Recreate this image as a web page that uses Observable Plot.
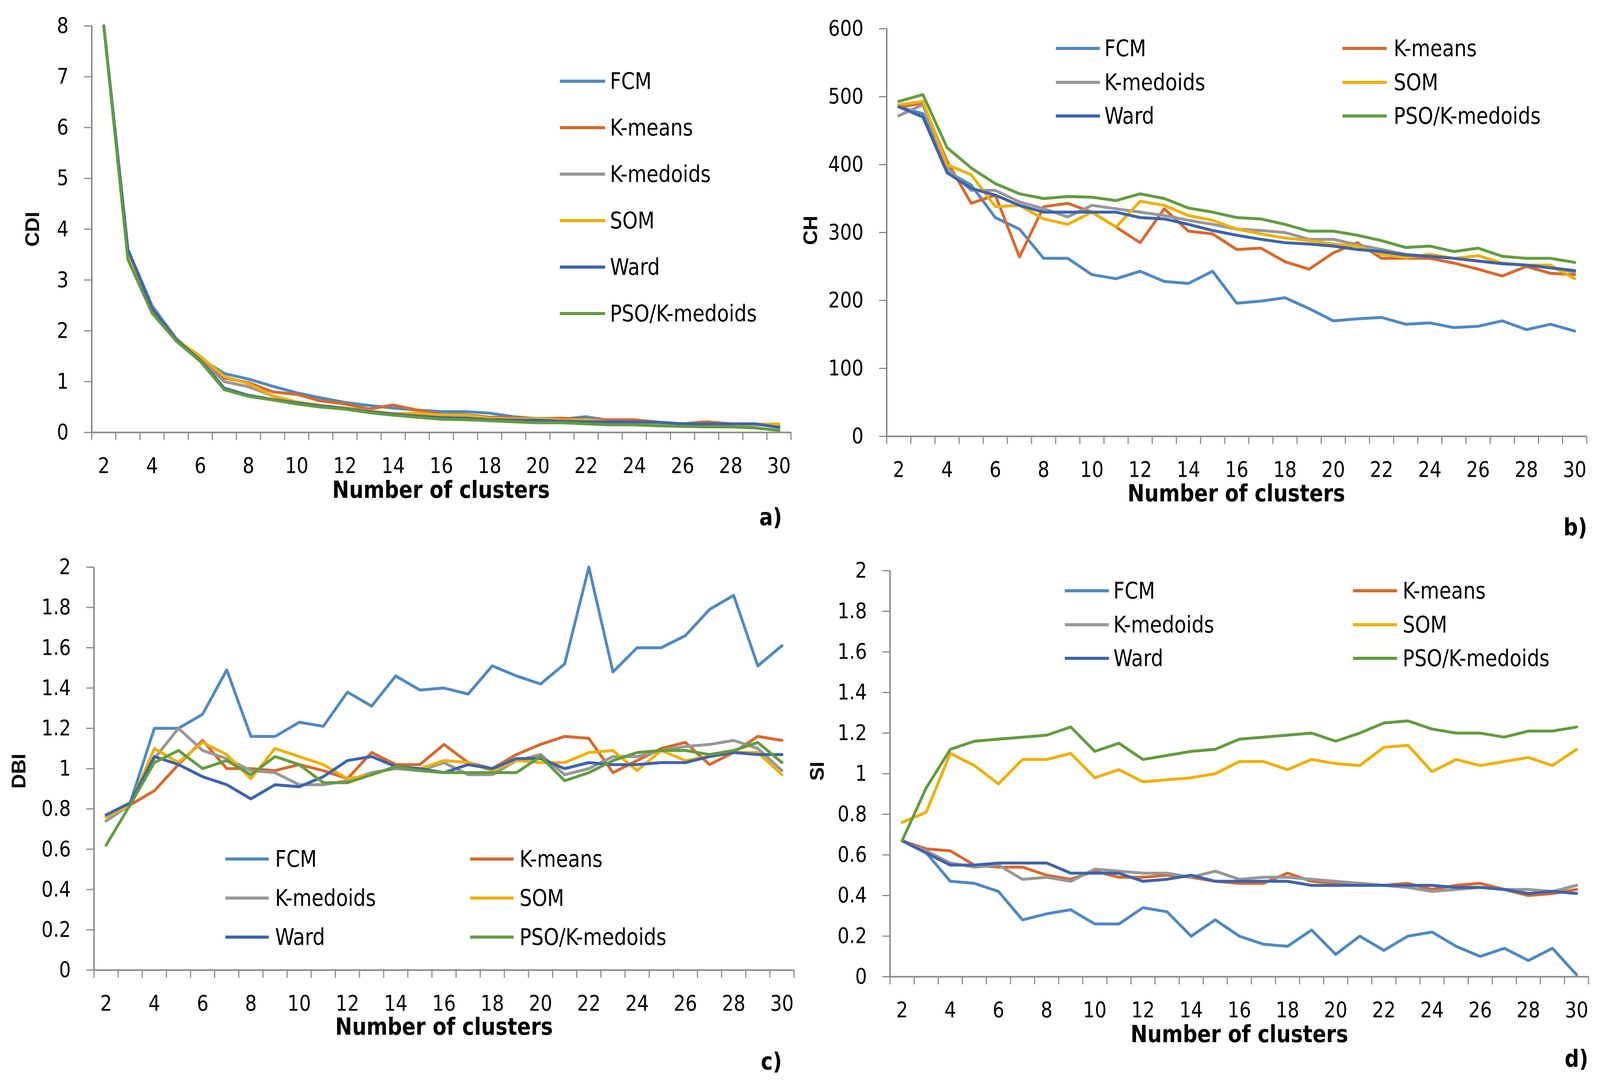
<!DOCTYPE html>
<html>
<head>
<meta charset="utf-8">
<script src="https://cdn.jsdelivr.net/npm/d3@7"></script>
<script src="https://cdn.jsdelivr.net/npm/@observablehq/plot@0.6"></script>
<style>
  html, body { margin: 0; padding: 0; background: #fff; overflow: hidden; }
  #root { position: absolute; left: 0; top: 0; width: 4281px; height: 2789px; background: #fff; overflow: hidden; transform-origin: 0 0; }
  .abs { position: absolute; white-space: nowrap; }
  .cond { font-family: "DejaVu Sans Condensed", "DejaVu Sans", sans-serif; color: #000; }
  .title { font-weight: bold; font-size: 60px; line-height: 1; transform: translate(-50%, -50%); }
  .ytitle { font-family: "Liberation Sans", Arial, sans-serif; font-weight: bold; font-size: 52px; line-height: 1; transform: translate(-50%, -50%) rotate(-90deg); }
  .leg { font-size: 58px; line-height: 1; transform: translateY(-50%); display: flex; align-items: center; }
</style>
</head>
<body>
<div id="root"></div>
<script>
// ---------- categories ----------
const K = d3.range(2, 31); // number of clusters 2..30
const SERIES = ["FCM", "K-means", "K-medoids", "SOM", "Ward", "PSO/K-medoids"];
const COLORS = ["#4f89c2", "#d9692b", "#979797", "#efb000", "#3d63ae", "#629c3f"];

// ---------- a) CDI ----------
const cdiFCM      = [8, 3.6, 2.5, 1.85, 1.45, 1.16, 1.05, 0.91, 0.78, 0.68, 0.59, 0.53, 0.48, 0.44, 0.41, 0.41, 0.38, 0.31, 0.27, 0.26, 0.31, 0.23, 0.21, 0.2, 0.17, 0.16, 0.16, 0.16, 0.14];
const cdiKmeans   = [8, 3.5, 2.4, 1.83, 1.45, 1.07, 0.98, 0.8, 0.75, 0.62, 0.56, 0.46, 0.54, 0.44, 0.35, 0.35, 0.3, 0.29, 0.27, 0.28, 0.25, 0.25, 0.25, 0.2, 0.17, 0.21, 0.17, 0.16, 0.15];
const cdiKmedoids = [8, 3.5, 2.5, 1.85, 1.42, 1.0, 0.9, 0.72, 0.6, 0.53, 0.48, 0.42, 0.37, 0.33, 0.31, 0.3, 0.27, 0.27, 0.24, 0.24, 0.22, 0.2, 0.2, 0.19, 0.17, 0.16, 0.16, 0.15, 0.14];
const cdiSOM      = [8, 3.5, 2.4, 1.83, 1.5, 1.1, 0.96, 0.72, 0.6, 0.53, 0.48, 0.42, 0.37, 0.38, 0.34, 0.34, 0.28, 0.26, 0.27, 0.24, 0.25, 0.21, 0.21, 0.19, 0.17, 0.17, 0.16, 0.16, 0.17];
const cdiWard     = [8, 3.6, 2.45, 1.83, 1.42, 0.87, 0.73, 0.65, 0.58, 0.52, 0.47, 0.41, 0.36, 0.32, 0.29, 0.28, 0.25, 0.24, 0.24, 0.22, 0.21, 0.21, 0.21, 0.2, 0.17, 0.17, 0.17, 0.17, 0.1];
const cdiPSO      = [8, 3.4, 2.35, 1.8, 1.4, 0.84, 0.71, 0.64, 0.56, 0.5, 0.46, 0.39, 0.34, 0.3, 0.26, 0.25, 0.23, 0.21, 0.19, 0.19, 0.17, 0.15, 0.15, 0.13, 0.12, 0.11, 0.11, 0.09, 0.04];

// ---------- b) CH ----------
const chFCM      = [485, 475, 390, 370, 322, 305, 262, 262, 238, 232, 243, 228, 225, 243, 196, 199, 204, 188, 170, 173, 175, 165, 167, 160, 162, 170, 157, 165, 155];
const chKmeans   = [485, 490, 405, 343, 355, 264, 338, 343, 330, 308, 285, 335, 302, 298, 275, 277, 257, 246, 270, 285, 262, 262, 262, 255, 246, 236, 250, 240, 238];
const chKmedoids = [472, 488, 395, 362, 362, 345, 335, 323, 340, 335, 330, 325, 318, 312, 305, 303, 300, 290, 290, 282, 275, 268, 265, 262, 258, 255, 252, 248, 242];
const chSOM      = [488, 493, 400, 385, 338, 340, 320, 312, 330, 308, 346, 340, 325, 318, 305, 298, 292, 288, 283, 280, 268, 263, 268, 262, 266, 255, 252, 252, 232];
const chWard     = [485, 470, 388, 365, 355, 340, 330, 330, 330, 330, 322, 320, 312, 303, 296, 290, 285, 283, 280, 275, 272, 267, 265, 262, 258, 254, 252, 248, 244];
const chPSO      = [493, 503, 425, 395, 372, 357, 350, 353, 352, 347, 357, 350, 336, 330, 322, 320, 312, 302, 302, 296, 288, 278, 280, 272, 277, 265, 262, 262, 256];

// ---------- c) DBI ----------
const dbiFCM      = [0.76, 0.83, 1.2, 1.2, 1.27, 1.49, 1.16, 1.16, 1.23, 1.21, 1.38, 1.31, 1.46, 1.39, 1.4, 1.37, 1.51, 1.46, 1.42, 1.52, 2.0, 1.48, 1.6, 1.6, 1.66, 1.79, 1.86, 1.51, 1.61];
const dbiKmeans   = [0.76, 0.82, 0.89, 1.02, 1.14, 1.0, 1.0, 0.99, 1.02, 0.99, 0.95, 1.08, 1.02, 1.02, 1.12, 1.03, 1.0, 1.07, 1.12, 1.16, 1.15, 0.98, 1.04, 1.1, 1.13, 1.02, 1.08, 1.16, 1.14];
const dbiKmedoids = [0.74, 0.82, 1.05, 1.2, 1.09, 1.05, 0.99, 0.98, 0.92, 0.92, 0.94, 0.98, 1.0, 0.99, 1.03, 0.97, 0.97, 1.04, 1.07, 0.97, 1.0, 1.06, 1.06, 1.09, 1.11, 1.12, 1.14, 1.1, 0.99];
const dbiSOM      = [0.76, 0.82, 1.1, 1.03, 1.13, 1.07, 0.95, 1.1, 1.06, 1.02, 0.95, 0.97, 1.01, 1.0, 1.04, 1.03, 0.99, 1.04, 1.03, 1.03, 1.08, 1.09, 0.99, 1.09, 1.04, 1.06, 1.08, 1.08, 0.97];
const dbiWard     = [0.77, 0.83, 1.06, 1.02, 0.96, 0.92, 0.85, 0.92, 0.91, 0.96, 1.04, 1.06, 1.01, 1.0, 0.98, 1.02, 1.0, 1.05, 1.05, 1.0, 1.03, 1.02, 1.02, 1.03, 1.03, 1.06, 1.08, 1.07, 1.07];
const dbiPSO      = [0.62, 0.82, 1.03, 1.09, 1.0, 1.04, 0.97, 1.06, 1.02, 0.93, 0.93, 0.97, 1.01, 0.99, 0.98, 0.98, 0.98, 0.98, 1.06, 0.94, 0.98, 1.04, 1.08, 1.09, 1.09, 1.07, 1.09, 1.13, 1.03];

// ---------- d) SI ----------
const siFCM      = [0.67, 0.61, 0.47, 0.46, 0.42, 0.28, 0.31, 0.33, 0.26, 0.26, 0.34, 0.32, 0.2, 0.28, 0.2, 0.16, 0.15, 0.23, 0.11, 0.2, 0.13, 0.2, 0.22, 0.15, 0.1, 0.14, 0.08, 0.14, 0.01];
const siKmeans   = [0.67, 0.63, 0.62, 0.55, 0.54, 0.54, 0.5, 0.48, 0.52, 0.49, 0.49, 0.5, 0.49, 0.47, 0.46, 0.46, 0.51, 0.47, 0.46, 0.46, 0.45, 0.46, 0.43, 0.45, 0.46, 0.43, 0.4, 0.41, 0.43];
const siKmedoids = [0.67, 0.62, 0.56, 0.54, 0.55, 0.48, 0.49, 0.47, 0.53, 0.52, 0.51, 0.51, 0.49, 0.52, 0.48, 0.49, 0.49, 0.48, 0.47, 0.46, 0.45, 0.44, 0.42, 0.43, 0.44, 0.43, 0.43, 0.42, 0.45];
const siSOM      = [0.76, 0.81, 1.1, 1.04, 0.95, 1.07, 1.07, 1.1, 0.98, 1.02, 0.96, 0.97, 0.98, 1.0, 1.06, 1.06, 1.02, 1.07, 1.05, 1.04, 1.13, 1.14, 1.01, 1.07, 1.04, 1.06, 1.08, 1.04, 1.12];
const siWard     = [0.67, 0.61, 0.55, 0.55, 0.56, 0.56, 0.56, 0.51, 0.51, 0.51, 0.47, 0.48, 0.5, 0.47, 0.47, 0.47, 0.47, 0.45, 0.45, 0.45, 0.45, 0.45, 0.45, 0.44, 0.44, 0.43, 0.41, 0.42, 0.41];
const siPSO      = [0.67, 0.93, 1.12, 1.16, 1.17, 1.18, 1.19, 1.23, 1.11, 1.15, 1.07, 1.09, 1.11, 1.12, 1.17, 1.18, 1.19, 1.2, 1.16, 1.2, 1.25, 1.26, 1.22, 1.2, 1.2, 1.18, 1.21, 1.21, 1.23];

// ---------- tick labels ----------
const xLabelTicks = d3.range(2, 31, 2);
const xBoundaryTicks = d3.range(1.5, 31, 1);
const cdiTicks = d3.range(0, 9, 1);
const chTicks = d3.range(0, 601, 100);
const dbiTicks = d3.range(0, 11).map(i => i / 5);
const siTicks = d3.range(0, 11).map(i => i / 5);

const AX = "#888888";
const FONT = '"DejaVu Sans Condensed", "DejaVu Sans", sans-serif';
const root = document.getElementById("root");

// fit the 4281x2789 layout into whatever viewport the browser really has
function fit() {
  const vw = document.documentElement.clientWidth || window.innerWidth || 4281;
  const vh = window.innerHeight || 2789;
  root.style.transform = `scale(${vw / 4281}, ${vh / 2789})`;
}
fit();
window.addEventListener("resize", fit);

function fmt(d) { return String(+(+d).toFixed(1)); }

function panel(cfg) {
  const tables = cfg.tables;
  const data = SERIES.flatMap((s, i) => tables[i].map((v, j) => ({k: K[j], v, s})));
  const chart = Plot.plot({
    width: cfg.width, height: cfg.height,
    marginLeft: cfg.ml, marginRight: cfg.mr, marginTop: cfg.mt, marginBottom: cfg.mb,
    style: {fontFamily: FONT, fontSize: "55px", color: "black", background: "transparent", overflow: "visible"},
    x: {domain: [1.5, 30.5]},
    y: {domain: cfg.yDomain},
    marks: [
      Plot.axisX({ticks: xBoundaryTicks, tickSize: 20, tickFormat: () => "", stroke: AX, strokeWidth: 3, label: null}),
      Plot.axisX({ticks: xLabelTicks, tickSize: 0, tickPadding: 64, tickFormat: d => String(d), label: null}),
      Plot.axisY({ticks: cfg.yTicks, tickSize: 20, tickPadding: 42, stroke: AX, strokeWidth: 3, tickFormat: fmt, label: null}),
      Plot.ruleY([cfg.yDomain[0]], {stroke: AX, strokeWidth: 4}),
      Plot.ruleX([1.5], {stroke: AX, strokeWidth: 4}),
      ...SERIES.map((s, i) => Plot.lineY(data.filter(d => d.s === s), {
        x: "k", y: "v", stroke: COLORS[i], strokeWidth: 7.5, strokeLinejoin: "round", strokeLinecap: "round"
      }))
    ]
  });
  chart.style.position = "absolute";
  chart.style.left = cfg.left + "px";
  chart.style.top = cfg.top + "px";
  root.appendChild(chart);
}

function text(cls, str, x, y) {
  const el = document.createElement("div");
  el.className = "abs " + cls;
  el.textContent = str;
  el.style.left = x + "px";
  el.style.top = y + "px";
  root.appendChild(el);
}

function legendItem(i, lineX, lineLen, textX, y) {
  const sw = document.createElement("div");
  sw.className = "abs";
  sw.style.left = lineX + "px";
  sw.style.top = (y - 4) + "px";
  sw.style.width = lineLen + "px";
  sw.style.height = "8px";
  sw.style.background = COLORS[i];
  root.appendChild(sw);
  const t = document.createElement("div");
  t.className = "abs cond leg";
  t.textContent = SERIES[i];
  t.style.left = textX + "px";
  t.style.top = y + "px";
  root.appendChild(t);
}

// panel a
panel({left: 0, top: 0, width: 2140, height: 1390, ml: 245, mr: 24, mt: 66, mb: 283,
  yDomain: [0, 8], yTicks: cdiTicks,
  tables: [cdiFCM, cdiKmeans, cdiKmedoids, cdiSOM, cdiWard, cdiPSO]});
// panel b
panel({left: 2140, top: 0, width: 2141, height: 1390, ml: 232, mr: 36, mt: 73, mb: 273,
  yDomain: [0, 600], yTicks: chTicks,
  tables: [chFCM, chKmeans, chKmedoids, chSOM, chWard, chPSO]});
// panel c
panel({left: 0, top: 1390, width: 2140, height: 1399, ml: 251, mr: 16, mt: 62, mb: 305,
  yDomain: [0, 2], yTicks: dbiTicks,
  tables: [dbiFCM, dbiKmeans, dbiKmedoids, dbiSOM, dbiWard, dbiPSO]});
// panel d
panel({left: 2140, top: 1390, width: 2141, height: 1399, ml: 241, mr: 31, mt: 71, mb: 288,
  yDomain: [0, 2], yTicks: siTicks,
  tables: [siFCM, siKmeans, siKmedoids, siSOM, siWard, siPSO]});

// axis titles
text("cond title", "Number of clusters", 1180, 1254);
text("cond title", "Number of clusters", 3308, 1263);
text("cond title", "Number of clusters", 1188, 2629);
text("cond title", "Number of clusters", 3316, 2648);
text("ytitle", "CDI", 87, 587);
text("ytitle", "CH", 2168, 590);
text("ytitle", "DBI", 50, 1975);
text("ytitle", "SI", 2186, 1975);
text("cond title", "a)", 2062, 1324);
text("cond title", "b)", 4215, 1350);
text("cond title", "c)", 2064, 2718);
text("cond title", "d)", 4218, 2711);

// legends
SERIES.forEach((s, i) => legendItem(i, 1498, 121, 1632, 208 + 119 * i));
function twoCol(c1Line, c1Text, c2Line, c2Text, len, rows) {
  SERIES.forEach((s, i) => {
    const col = i % 2, row = Math.floor(i / 2);
    legendItem(i, col ? c2Line : c1Line, len, col ? c2Text : c1Text, rows[row]);
  });
}
twoCol(2825, 2955, 3592, 3729, 118, [124, 211, 297]);
twoCol(603, 736, 1258, 1390, 116, [2200, 2300, 2400]);
twoCol(2849, 2979, 3620, 3753, 118, [1513, 1600, 1686]);
</script>
</body>
</html>
